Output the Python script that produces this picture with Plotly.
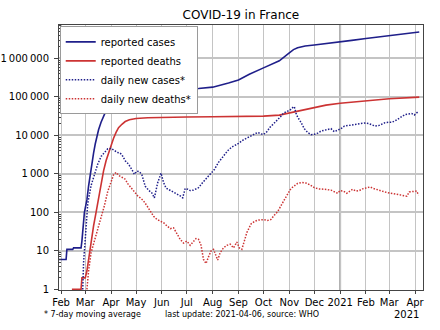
import plotly.graph_objects as go

# ---------------- data ----------------
cases_dates = ["2020-01-24", "2020-02-07", "2020-02-08", "2020-02-15", "2020-02-16", "2020-02-25",
               "2020-02-26", "2020-02-27", "2020-02-28", "2020-02-29", "2020-03-01", "2020-03-03",
               "2020-03-05", "2020-03-07", "2020-03-09", "2020-03-11", "2020-03-13", "2020-03-15",
               "2020-03-17", "2020-03-20", "2020-03-23", "2020-03-26", "2020-03-29", "2020-04-01",
               "2020-04-04", "2020-04-07", "2020-04-11", "2020-04-15", "2020-04-20", "2020-04-25",
               "2020-05-01", "2020-05-15", "2020-06-01", "2020-06-15", "2020-07-01", "2020-07-15",
               "2020-08-01", "2020-08-10", "2020-08-20", "2020-09-01", "2020-09-14", "2020-10-01",
               "2020-10-10", "2020-10-20", "2020-11-01", "2020-11-06", "2020-11-11", "2020-11-20",
               "2020-12-01", "2020-12-15", "2021-01-01", "2021-01-15", "2021-02-01", "2021-02-15",
               "2021-03-01", "2021-03-15", "2021-04-01", "2021-04-06"]
cases_total = [6, 6, 11, 11, 12, 12,
               18, 38, 57, 100, 130, 212,
               480, 1000, 2000, 3500, 6000, 9500,
               14000, 22000, 32000, 44000, 57000, 68000,
               80000, 92000, 106000, 117000, 127000, 133000,
               138000, 144000, 150000, 154000, 160000, 166000,
               180000, 198000, 230000, 275000, 390000, 570000,
               700000, 870000, 1400000, 1700000, 1900000, 2120000,
               2250000, 2420000, 2680000, 2950000, 3300000, 3580000,
               3900000, 4250000, 4750000, 4900000]

deaths_dates = ["2020-02-14", "2020-02-25", "2020-02-26", "2020-03-01", "2020-03-03", "2020-03-05",
                "2020-03-08", "2020-03-11", "2020-03-14", "2020-03-17", "2020-03-20", "2020-03-23",
                "2020-03-26", "2020-03-29", "2020-04-01", "2020-04-04", "2020-04-07", "2020-04-10",
                "2020-04-14", "2020-04-18", "2020-04-23", "2020-05-01", "2020-05-15", "2020-06-01",
                "2020-07-01", "2020-08-01", "2020-09-01", "2020-10-01", "2020-10-20", "2020-11-01",
                "2020-11-15", "2020-12-01", "2020-12-15", "2021-01-01", "2021-02-01", "2021-03-01",
                "2021-04-06"]
deaths_total = [1, 1, 2, 2, 3, 6,
                20, 45, 100, 250, 550, 1200,
                2200, 3600, 5500, 8500, 12000, 16000,
                19500, 23000, 25500, 27500, 28800, 29700,
                30100, 30500, 30800, 31800, 33800, 38500,
                46000, 55000, 61500, 69000, 81000, 90000,
                99000]

new_cases_dates = ["2020-02-27", "2020-02-28", "2020-03-01", "2020-03-02", "2020-03-04", "2020-03-08",
                   "2020-03-12", "2020-03-16", "2020-03-20", "2020-03-24", "2020-03-28", "2020-04-01",
                   "2020-04-05", "2020-04-09", "2020-04-12", "2020-04-15", "2020-04-18", "2020-04-22",
                   "2020-04-26", "2020-04-29", "2020-05-02", "2020-05-05", "2020-05-08", "2020-05-10",
                   "2020-05-12", "2020-05-16", "2020-05-20", "2020-05-23", "2020-05-27", "2020-05-31",
                   "2020-06-03", "2020-06-06", "2020-06-11", "2020-06-15", "2020-06-19", "2020-06-23",
                   "2020-06-26", "2020-06-29", "2020-07-02", "2020-07-05", "2020-07-09", "2020-07-15",
                   "2020-07-20", "2020-07-25", "2020-07-30", "2020-08-03", "2020-08-08", "2020-08-14",
                   "2020-08-19", "2020-08-24", "2020-09-01", "2020-09-06", "2020-09-11", "2020-09-16",
                   "2020-09-21", "2020-09-24", "2020-09-28", "2020-10-01", "2020-10-05", "2020-10-09",
                   "2020-10-13", "2020-10-17", "2020-10-21", "2020-10-25", "2020-10-29", "2020-11-02",
                   "2020-11-05", "2020-11-07", "2020-11-09", "2020-11-11", "2020-11-15", "2020-11-19",
                   "2020-11-23", "2020-11-27", "2020-12-01", "2020-12-05", "2020-12-09", "2020-12-13",
                   "2020-12-17", "2020-12-21", "2020-12-25", "2020-12-29", "2021-01-02", "2021-01-06",
                   "2021-01-10", "2021-01-14", "2021-01-18", "2021-01-22", "2021-01-26", "2021-01-30",
                   "2021-02-04", "2021-02-08", "2021-02-12", "2021-02-16", "2021-02-20", "2021-02-24",
                   "2021-02-28", "2021-03-04", "2021-03-08", "2021-03-12", "2021-03-16", "2021-03-20",
                   "2021-03-24", "2021-03-28", "2021-03-31", "2021-04-03", "2021-04-05"]
new_cases = [1, 5, 20, 40, 170, 500,
             1000, 1800, 2850, 3700, 4500, 4600,
             4000, 3600, 3500, 2900, 2200, 1800,
             1300, 980, 1180, 1150, 950, 700,
             480, 380, 320, 240, 590, 1050,
             600, 430, 380, 340, 310, 270,
             240, 420, 400, 370, 380, 440,
             600, 800, 1050, 1300, 2000, 3000,
             4000, 5000, 6200, 7500, 8600, 10000,
             11500, 12000, 11000, 10600, 12500, 16500,
             20000, 24000, 30000, 38000, 42000, 46000,
             53000, 56000, 38000, 30000, 22000, 15000,
             12000, 10500, 10700, 11500, 13000, 13500,
             14500, 15000, 12500, 13500, 15000, 17500,
             18000, 18500, 19000, 19500, 20000, 21000,
             20500, 19000, 17500, 18000, 20000, 21500,
             22000, 22000, 24000, 27500, 31000, 35000,
             36000, 37000, 34000, 40000, 42000]

new_deaths_dates = ["2020-03-03", "2020-03-05", "2020-03-08", "2020-03-12", "2020-03-16", "2020-03-20",
                    "2020-03-24", "2020-03-28", "2020-04-01", "2020-04-04", "2020-04-07", "2020-04-10",
                    "2020-04-14", "2020-04-18", "2020-04-21", "2020-04-25", "2020-04-29", "2020-05-03",
                    "2020-05-07", "2020-05-10", "2020-05-14", "2020-05-18", "2020-05-22", "2020-05-26",
                    "2020-05-30", "2020-06-03", "2020-06-07", "2020-06-11", "2020-06-15", "2020-06-19",
                    "2020-06-23", "2020-06-27", "2020-07-01", "2020-07-05", "2020-07-09", "2020-07-12",
                    "2020-07-15", "2020-07-18", "2020-07-21", "2020-07-24", "2020-07-27", "2020-07-30",
                    "2020-08-02", "2020-08-05", "2020-08-07", "2020-08-10", "2020-08-14", "2020-08-18",
                    "2020-08-22", "2020-08-26", "2020-08-30", "2020-09-02", "2020-09-05", "2020-09-08",
                    "2020-09-11", "2020-09-16", "2020-09-20", "2020-09-24", "2020-10-01", "2020-10-06",
                    "2020-10-10", "2020-10-14", "2020-10-18", "2020-10-22", "2020-10-26", "2020-10-30",
                    "2020-11-03", "2020-11-07", "2020-11-11", "2020-11-16", "2020-11-21", "2020-11-26",
                    "2020-12-01", "2020-12-06", "2020-12-11", "2020-12-16", "2020-12-21", "2020-12-26",
                    "2020-12-29", "2021-01-01", "2021-01-05", "2021-01-09", "2021-01-13", "2021-01-16",
                    "2021-01-20", "2021-01-24", "2021-01-28", "2021-02-02", "2021-02-06", "2021-02-10",
                    "2021-02-14", "2021-02-18", "2021-02-22", "2021-02-26", "2021-03-02", "2021-03-06",
                    "2021-03-10", "2021-03-14", "2021-03-18", "2021-03-22", "2021-03-25", "2021-03-29",
                    "2021-04-01", "2021-04-03", "2021-04-05"]
new_deaths = [1, 3, 9, 18, 35, 70,
              150, 350, 650, 950, 1100, 920,
              820, 730, 560, 430, 330, 270,
              230, 200, 150, 110, 80, 66,
              60, 54, 45, 38, 40, 27,
              20, 16, 18, 14, 18, 21,
              20, 14, 6, 4.7, 7, 10,
              11, 7, 5.8, 9, 12, 14,
              15, 12, 17, 12, 11, 18,
              30, 50, 58, 63, 65, 62,
              66, 85, 105, 150, 220, 300,
              420, 500, 570, 600, 580, 520,
              440, 410, 410, 395, 380, 340,
              315, 370, 360, 315, 360, 400,
              360, 370, 410, 440, 460, 420,
              390, 380, 350, 330, 316, 310,
              300, 290, 270, 265, 340, 345,
              350, 360, 280]

month_ticks = ["2020-02-01", "2020-03-01", "2020-04-01", "2020-05-01", "2020-06-01", "2020-07-01",
               "2020-08-01", "2020-09-01", "2020-10-01", "2020-11-01", "2020-12-01", "2021-01-01",
               "2021-02-01", "2021-03-01", "2021-04-01"]
month_labels = ["Feb", "Mar", "Apr", "May", "Jun", "Jul", "Aug", "Sep", "Oct", "Nov", "Dec", "2021",
                "Feb", "Mar", "Apr"]
y_ticks = [1, 10, 100, 1000, 10000, 100000, 1000000]
y_labels = ["1", "10", "100", "1\u2009000", "10\u2009000", "100\u2009000", "1\u2009000\u2009000"]

# ---------------- style ----------------
NAVY = "#1f1f8a"
RED = "#cc3333"
FONT = "DejaVu Sans"
GRID = "#c4c4c4"
AXIS = "#444444"
minor_vals = [m * 10 ** d for d in range(0, 7) for m in range(2, 10)]

fig = go.Figure()
fig.add_trace(go.Scatter(x=cases_dates, y=cases_total, mode="lines", name="reported cases",
                         line=dict(color=NAVY, width=1.6)))
fig.add_trace(go.Scatter(x=deaths_dates, y=deaths_total, mode="lines", name="reported deaths",
                         line=dict(color=RED, width=1.6)))
fig.add_trace(go.Scatter(x=new_cases_dates, y=new_cases, mode="lines", name="daily new cases*",
                         line=dict(color=NAVY, width=1.5, dash="1.5px,1.5px")))
fig.add_trace(go.Scatter(x=new_deaths_dates, y=new_deaths, mode="lines", name="daily new deaths*",
                         line=dict(color=RED, width=1.5, dash="1.5px,1.5px")))

fig.update_layout(
    width=440, height=330,
    margin=dict(l=59, r=17, t=25, b=40, pad=0, autoexpand=False),
    paper_bgcolor="white", plot_bgcolor="white",
    font=dict(family=FONT, size=10, color="black"),
    title=dict(text="COVID-19 in France", x=0.5475, xanchor="center", y=0.955, yanchor="middle",
               font=dict(family=FONT, size=12, color="black")),
    showlegend=True,
    legend=dict(x=0.002, y=0.995, xanchor="left", yanchor="top",
                bgcolor="white", bordercolor="#9a9a9a", borderwidth=1, itemwidth=30,
                font=dict(family=FONT, size=10, color="black"), tracegroupgap=0),
    xaxis=dict(type="date", range=["2020-01-29 12:00", "2021-04-10 12:00"], automargin=False,
               tickmode="array", tickvals=month_ticks, ticktext=month_labels,
               ticks="outside", ticklen=3, tickcolor=AXIS, tickwidth=1,
               showgrid=True, gridcolor=GRID, gridwidth=1,
               showline=True, linecolor=AXIS, linewidth=1, mirror=True,
               zeroline=False, tickfont=dict(family=FONT, size=10, color="black")),
    yaxis=dict(type="log", range=[-0.015, 6.87], automargin=False,
               tickmode="array", tickvals=y_ticks, ticktext=y_labels,
               ticks="outside", ticklen=4, tickcolor=AXIS, tickwidth=1,
               minor=dict(tickmode="array", tickvals=minor_vals, ticks="inside", ticklen=2,
                          tickcolor=AXIS, showgrid=False),
               showgrid=True, gridcolor=GRID, gridwidth=1.5,
               showline=True, linecolor=AXIS, linewidth=1, mirror=True,
               zeroline=False, ticklabelstandoff=3,
               tickfont=dict(family=FONT, size=10, color="black")),
    yaxis2=dict(type="log", range=[-0.015, 6.87], overlaying="y", side="right", anchor="x",
                automargin=False,
                tickmode="array", tickvals=y_ticks, showticklabels=False,
                ticks="inside", ticklen=3, tickcolor=AXIS,
                minor=dict(tickmode="array", tickvals=minor_vals, ticks="inside", ticklen=2,
                           tickcolor=AXIS, showgrid=False),
                showgrid=False, showline=False, zeroline=False),
    shapes=[dict(type="line", xref="x", yref="paper", x0="2021-01-01", x1="2021-01-01",
                 y0=0, y1=1, line=dict(color="#a8a8a8", width=2), layer="below")],
    annotations=[
        dict(text="* 7-day moving average", xref="paper", yref="paper", x=-0.048, y=-0.094,
             xanchor="left", yanchor="middle", showarrow=False,
             font=dict(family=FONT, size=8, color="black")),
        dict(text="last update: 2021-04-06, source: WHO", xref="paper", yref="paper",
             x=0.2857, y=-0.094, xanchor="left", yanchor="middle", showarrow=False,
             font=dict(family=FONT, size=8, color="black")),
        dict(text="2021", xref="paper", yref="paper", x=0.995, y=-0.091,
             xanchor="right", yanchor="middle", showarrow=False,
             font=dict(family=FONT, size=10, color="black")),
    ],
)

fig.write_html("out.html")
